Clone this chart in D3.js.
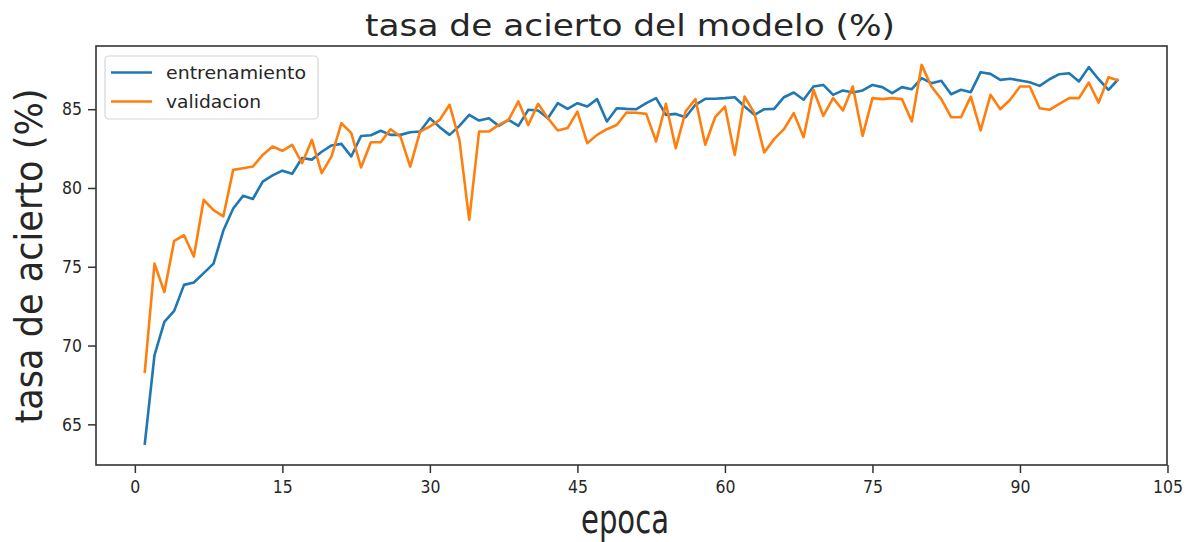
<!DOCTYPE html>
<html>
<head>
<meta charset="utf-8">
<script src="https://cdn.jsdelivr.net/npm/d3@7"></script>
<style>
  body { margin: 0; background: #fff; }
  text { font-family: "DejaVu Sans", sans-serif; fill: #262626; }
</style>
</head>
<body>
<div id="chart"></div>
<script>
// accuracy per epoch
const entrenamiento = [
  63.7, 69.4, 71.5, 72.2, 73.85, 74.0, 74.6, 75.2, 77.3, 78.7,
  79.5, 79.3, 80.4, 80.8, 81.1, 80.9, 81.9, 81.8, 82.3, 82.7,
  82.8, 82.0, 83.3, 83.35, 83.63, 83.37, 83.37, 83.54, 83.58, 84.43,
  83.86, 83.37, 83.94, 84.64, 84.28, 84.43, 83.94, 84.32, 83.94, 84.96,
  84.92, 84.43, 85.38, 85.02, 85.38, 85.17, 85.64, 84.22, 85.06, 85.02,
  85.0, 85.38, 85.7, 84.64, 84.7, 84.49, 85.28, 85.66, 85.66, 85.7,
  85.76, 85.17, 84.64, 85.0, 85.02, 85.76, 86.06, 85.6, 86.44, 86.54,
  85.91, 86.19, 86.06, 86.19, 86.54, 86.4, 86.02, 86.4, 86.27, 86.97,
  86.65, 86.8, 85.95, 86.23, 86.08, 87.35, 87.24, 86.86, 86.93, 86.82,
  86.71, 86.48, 86.9, 87.22, 87.28, 86.76, 87.67, 86.9, 86.23, 86.9
];
const validacion = [
  68.25, 75.2, 73.4, 76.65, 77.0, 75.65, 79.25, 78.6, 78.2, 81.15,
  81.25, 81.36, 82.1, 82.63, 82.36, 82.74, 81.57, 83.05, 80.94, 82.0,
  84.11, 83.5, 81.3, 82.9, 82.9, 83.73, 83.27, 81.36, 83.58, 83.9,
  84.32, 85.28, 83.05, 77.98, 83.58, 83.58, 84.0, 84.32, 85.49, 84.0,
  85.34, 84.43, 83.65, 83.8, 84.85, 82.84, 83.37, 83.73, 84.0, 84.79,
  84.77, 84.7, 82.95, 85.34, 82.53, 84.85, 85.64, 82.74, 84.49, 85.17,
  82.1, 85.8, 84.75, 82.25, 83.1, 83.73, 84.75, 83.22, 86.23, 84.58,
  85.7, 84.92, 86.44, 83.31, 85.7, 85.64, 85.7, 85.64, 84.22, 87.81,
  86.44, 85.64, 84.49, 84.49, 85.8, 83.65, 85.91, 85.0, 85.6, 86.44,
  86.44, 85.06, 84.96, 85.34, 85.7, 85.7, 86.69, 85.42, 87.03, 86.82
];
const epocas = d3.range(1, entrenamiento.length + 1);
const xTicks = [0, 15, 30, 45, 60, 75, 90, 105];
const yTicks = [65, 70, 75, 80, 85];

const W = 1191, H = 542;
const margin = { top: 46, right: 24, bottom: 77, left: 96 };

const svg = d3.select("#chart")
  .append("svg")
  .attr("width", W)
  .attr("height", H);

const x = d3.scaleLinear()
  .domain([-3.95, 104.95])
  .range([margin.left, W - margin.right]);

const y = d3.scaleLinear()
  .domain([62.42, 89.01])
  .range([H - margin.bottom, margin.top]);

const line = d3.line()
  .x((d, i) => x(epocas[i]))
  .y(d => y(d));

svg.append("path")
  .datum(entrenamiento)
  .attr("fill", "none")
  .attr("stroke", "#1f77b4")
  .attr("stroke-width", 2.6)
  .attr("stroke-linejoin", "round")
  .attr("d", line);

svg.append("path")
  .datum(validacion)
  .attr("fill", "none")
  .attr("stroke", "#ff7f0e")
  .attr("stroke-width", 2.6)
  .attr("stroke-linejoin", "round")
  .attr("d", line);

// axes
const xAxis = svg.append("g")
  .attr("transform", `translate(0,${H - margin.bottom})`)
  .call(d3.axisBottom(x).tickValues(xTicks).tickSize(8).tickPadding(6));

const yAxis = svg.append("g")
  .attr("transform", `translate(${margin.left},0)`)
  .call(d3.axisLeft(y).tickValues(yTicks).tickSize(8).tickPadding(6));

[xAxis, yAxis].forEach(g => {
  g.select(".domain").remove();
  g.selectAll(".tick line").attr("stroke", "#333").attr("stroke-width", 1.5);
  g.selectAll(".tick text")
    .attr("font-size", 18)
    .attr("font-family", "DejaVu Sans")
    .attr("fill", "#333")
    .attr("lengthAdjust", "spacingAndGlyphs")
    .attr("textLength", function () { return this.textContent.length * 10; });
});
xAxis.selectAll(".tick text").attr("dy", "0.78em");

// frame
svg.append("rect")
  .attr("x", margin.left)
  .attr("y", margin.top)
  .attr("width", W - margin.left - margin.right)
  .attr("height", H - margin.top - margin.bottom)
  .attr("fill", "none")
  .attr("stroke", "#333")
  .attr("stroke-width", 1.6);

// title and labels
svg.append("text")
  .attr("x", 630)
  .attr("y", 36)
  .attr("text-anchor", "middle")
  .attr("font-size", 30)
  .attr("lengthAdjust", "spacingAndGlyphs")
  .attr("textLength", 530)
  .text("tasa de acierto del modelo (%)");

svg.append("text")
  .attr("x", 625)
  .attr("y", 533)
  .attr("text-anchor", "middle")
  .attr("font-size", 40)
  .attr("lengthAdjust", "spacingAndGlyphs")
  .attr("textLength", 88)
  .text("epoca");

svg.append("text")
  .attr("transform", "translate(42,256) rotate(-90)")
  .attr("text-anchor", "middle")
  .attr("font-size", 37)
  .attr("lengthAdjust", "spacingAndGlyphs")
  .attr("textLength", 335)
  .text("tasa de acierto (%)");

// legend
const legend = svg.append("g");
legend.append("rect")
  .attr("x", 105).attr("y", 56)
  .attr("width", 213).attr("height", 63)
  .attr("rx", 4)
  .attr("fill", "#fff")
  .attr("fill-opacity", 0.8)
  .attr("stroke", "#d6d6d6")
  .attr("stroke-width", 1.2);

const items = [
  { name: "entrenamiento", color: "#1f77b4", width: 140 },
  { name: "validacion", color: "#ff7f0e", width: 95 }
];
items.forEach((it, i) => {
  const cy = 72.5 + i * 29;
  legend.append("line")
    .attr("x1", 111).attr("x2", 152)
    .attr("y1", cy).attr("y2", cy)
    .attr("stroke", it.color)
    .attr("stroke-width", 2.6);
  legend.append("text")
    .attr("x", 166)
    .attr("y", cy + 6.5)
    .attr("font-size", 18)
    .attr("lengthAdjust", "spacingAndGlyphs")
    .attr("textLength", it.width)
    .text(it.name);
});
</script>
</body>
</html>
